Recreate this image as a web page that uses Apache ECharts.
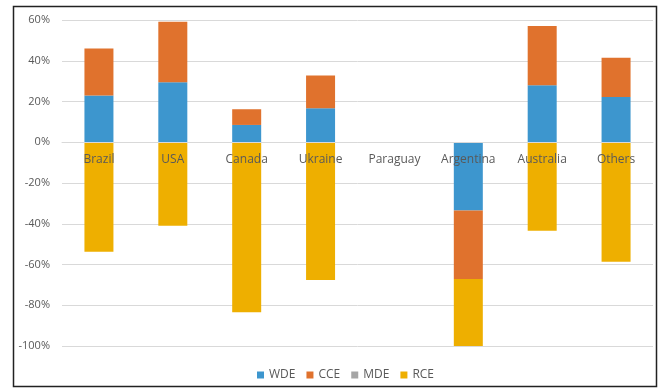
<!DOCTYPE html>
<html>
<head>
<meta charset="utf-8">
<script src="https://cdn.jsdelivr.net/npm/echarts@6/dist/echarts.min.js"></script>
<style>html,body{margin:0;padding:0;background:#fff;}#c{width:660px;height:388px;}</style>
</head>
<body>
<div id="c"></div>
<script>
const categories = ['Brazil', 'USA', 'Canada', 'Ukraine', 'Paraguay', 'Argentina', 'Australia', 'Others'];
const WDE = [23, 29.5, 8.5, 16.7, 0, -33.5, 28, 22.2];
const CCE = [23, 29.7, 7.7, 16, 0, -33.6, 29.1, 19.3];
const MDE = [0, 0, 0, 0, 0, 0, 0, 0];
const RCE = [-53.7, -41, -83.4, -67.6, 0, -32.9, -43.4, -58.6];
const yTicks = { min: -100, max: 60, interval: 20 };

const chart = echarts.init(document.getElementById('c'));
const font = 'Open Sans, Noto Sans, sans-serif';
function s(name, data, color) {
  return { name, type: 'bar', stack: 'all', data, barWidth: 29, itemStyle: { color } };
}
chart.setOption({
  animation: false,
  textStyle: { fontFamily: font },
  grid: { left: 62, right: 7, top: 20, bottom: 42 },
  legend: {
    data: ['WDE', 'CCE', 'MDE', 'RCE'],
    left: 252, bottom: 2,
    itemWidth: 7, itemHeight: 7, itemGap: 11,
    icon: 'rect',
    textStyle: { color: '#595959', fontSize: 12, fontFamily: font }
  },
  xAxis: {
    type: 'category', data: categories, z: 5,
    offset: -204,
    axisLine: { onZero: false, lineStyle: { color: '#d9d9d9' } },
    axisTick: { show: false },
    axisLabel: { color: '#595959', fontSize: 12, margin: 12, fontFamily: font }
  },
  yAxis: {
    type: 'value', min: yTicks.min, max: yTicks.max, interval: yTicks.interval,
    axisLine: { show: false }, axisTick: { show: false },
    axisLabel: { formatter: '{value}%', color: '#595959', fontSize: 11, margin: 12, fontFamily: font },
    splitLine: { lineStyle: { color: '#d9d9d9' } }
  },
  graphic: [{
    type: 'rect', shape: { x: 13.5, y: 6.5, width: 643, height: 380 },
    style: { fill: 'none', stroke: '#222', lineWidth: 1.5 }, z: 100
  }],
  series: [
    s('WDE', WDE, '#3D96CE'),
    s('CCE', CCE, '#E0722D'),
    s('MDE', MDE, '#A5A5A5'),
    s('RCE', RCE, '#EEAF00')
  ]
});
</script>
</body>
</html>
